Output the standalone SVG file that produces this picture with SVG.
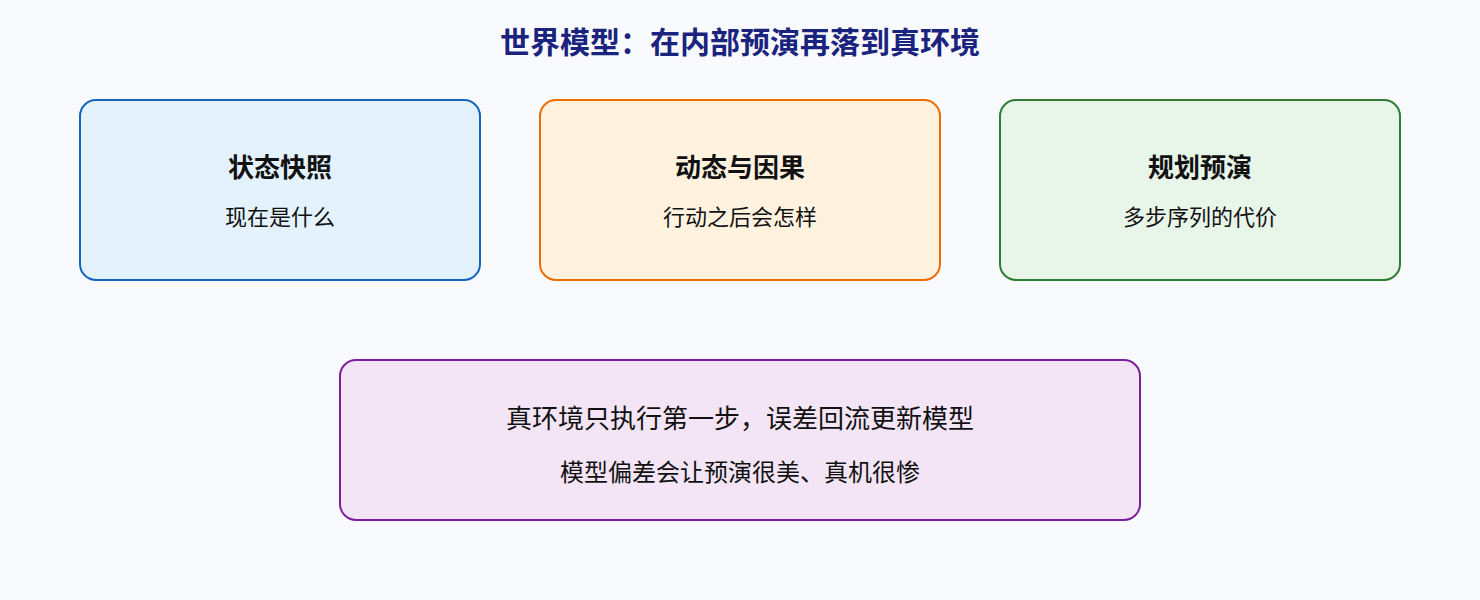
<svg xmlns="http://www.w3.org/2000/svg" width="1480" height="600" viewBox="0 0 1480 600">
<style>
text{font-family:"Noto Sans CJK SC","Noto Sans",sans-serif;text-anchor:middle;fill:#111}
.title{font-size:30px;font-weight:bold;fill:#1a237e}
.h{font-size:26px;font-weight:bold}
.s{font-size:22px}
.b1{font-size:26px}
.b2{font-size:24px}
rect.n{stroke-width:2}
</style>
<rect x="0" y="0" width="1480" height="600" fill="#f9fafd"/>
<text class="title" x="740" y="53">世界模型：在内部预演再落到真环境</text>
<g id="connectors"></g>
<g id="node-state">
<rect class="n" x="80" y="100" width="400" height="180" rx="16" fill="#e3f2fd" stroke="#1565c0"/>
<text class="h" x="280" y="177">状态快照</text>
<text class="s" x="280" y="225">现在是什么</text>
</g>
<g id="node-dynamics">
<rect class="n" x="540" y="100" width="400" height="180" rx="16" fill="#fff3e0" stroke="#ef6c00"/>
<text class="h" x="740" y="177">动态与因果</text>
<text class="s" x="740" y="225">行动之后会怎样</text>
</g>
<g id="node-plan">
<rect class="n" x="1000" y="100" width="400" height="180" rx="16" fill="#e8f5e9" stroke="#2e7d32"/>
<text class="h" x="1200" y="177">规划预演</text>
<text class="s" x="1200" y="225">多步序列的代价</text>
</g>
<g id="node-real">
<rect class="n" x="340" y="360" width="800" height="160" rx="16" fill="#f3e5f5" stroke="#7b1fa2"/>
<text class="b1" x="740" y="428">真环境只执行第一步，误差回流更新模型</text>
<text class="b2" x="740" y="481">模型偏差会让预演很美、真机很惨</text>
</g>
</svg>
